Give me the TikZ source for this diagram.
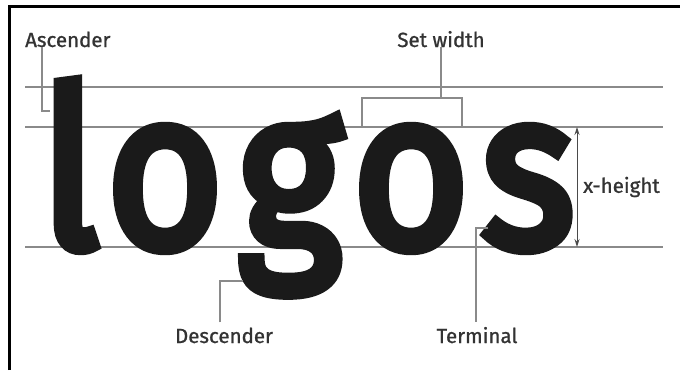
\documentclass[tikz,border=0pt]{standalone}
\usepackage{fontspec}
\setmainfont{Fira Sans}
\newfontfamily\wordfont{Fira Sans}[FakeBold=5]
\newfontfamily\tagfont{Fira Sans}[FakeBold=1]
\usepackage{tikz}
\usetikzlibrary{
  arrows.meta,
  positioning,
}
\definecolor{ink}{HTML}{1A1A1A}
\definecolor{rule}{HTML}{8A8A8A}
\definecolor{caption}{HTML}{333333}
\definecolor{dimline}{HTML}{4A4A4A}
\tikzset{
  >={Stealth[length=8pt,width=5pt]},
  glyph/.style={font=\wordfont\fontsize{222}{222}\selectfont, text=ink, anchor=base, inner sep=0pt, xscale=0.9},
  tag/.style={font=\tagfont\fontsize{20.5}{23}\selectfont, text=caption, inner sep=0pt},
  guide/.style={draw=rule, line width=1.3pt},
  pointer/.style={draw=rule, line width=1.3pt},
  dimarrow/.style={draw=dimline, line width=1pt, <->},
  border/.style={draw=black, line width=3pt, line join=miter},
}

\begin{document}
\begin{tikzpicture}[x=1pt,y=-1pt]
  \useasboundingbox (0,0) rectangle (680,370);
  \fill[white] (0,0) rectangle (680,370);

  % frame, cut off on the right and at the bottom
  \draw[border] (9.5,370) -- (9.5,6.5) -- (680,6.5);

  % ascender line, x-height line, baseline
  \draw[guide] (25,87) -- (663,87);
  \draw[guide] (25,127) -- (663,127);
  \draw[guide] (25,247) -- (663,247);

  % the word
  \node[glyph] (l)  at (70,247)  {l};
  \node[glyph] (o1) at (165,247) {o};
  \node[glyph] (g)  at (290,247) {g};
  \node[glyph] (o2) at (411,247) {o};
  \node[glyph] (s)  at (528,247) {s};

  % Ascender
  \node[tag, anchor=base west] (ascLbl) at (25,47) {Ascender};
  \coordinate (ascTip) at (50,111);
  \draw[pointer] ([xshift=17pt]ascLbl.south west) |- (ascTip);

  % Set width
  \node[tag, anchor=base] (setLbl) at (441,47) {Set width};
  \coordinate (brkL) at (362,127);
  \coordinate (brkR) at (462,127);
  \coordinate (brkTop) at (441,98);
  \draw[pointer] (setLbl.south) -- (brkTop);
  \draw[pointer] (brkL) |- (brkTop) -| (brkR);

  % x-height
  \coordinate (xTop) at (577,127);
  \coordinate (xBot) at (577,247);
  \draw[dimarrow] (xTop) -- (xBot);
  \node[tag, anchor=west] (xLbl) at (583,187) {x-height};

  % Descender
  \node[tag, anchor=base] (descLbl) at (224,343) {Descender};
  \coordinate (descTip) at (243,281);
  \draw[pointer] ([xshift=-4pt,yshift=5pt]descLbl.north) |- (descTip);

  % Terminal
  \node[tag, anchor=base] (termLbl) at (477,343) {Terminal};
  \coordinate (termTip) at (488,228);
  \draw[pointer] ([xshift=-1pt,yshift=5pt]termLbl.north) |- (termTip);
\end{tikzpicture}
\end{document}
